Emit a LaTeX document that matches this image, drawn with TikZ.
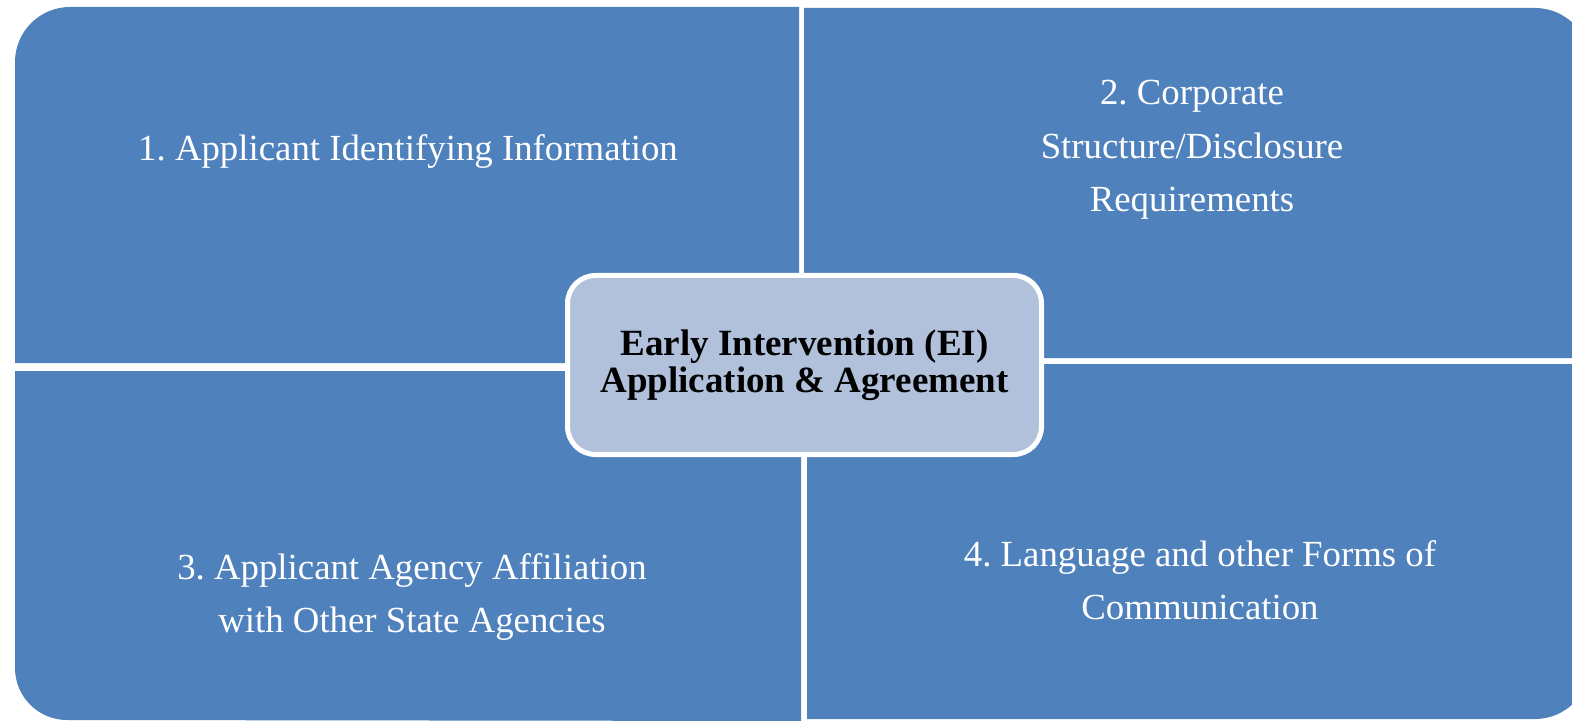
\documentclass[tikz,border=0pt]{standalone}
\usepackage{fontspec}
\setmainfont{Liberation Serif}
\frenchspacing
\definecolor{quadblue}{RGB}{79,129,189}
\definecolor{coreblue}{RGB}{177,193,220}
\begin{document}
\begin{tikzpicture}[x=0.5pt,y=-0.5pt,
  quad/.style={fill=quadblue},
  quadtext/.style={text=white,align=center,inner sep=0pt,font=\fontsize{18.4pt}{26.7pt}\selectfont},
  core/.style={draw=white,line width=2.5pt,fill=coreblue,rounded corners=14pt,
    minimum width=237pt,minimum height=89.5pt,align=center,inner sep=0pt,
    font=\bfseries\fontsize{18.5pt}{18.5pt}\selectfont}]
\useasboundingbox (0,0) rectangle (1572,721);
\clip (0,0) rectangle (1572,721);
\fill[quad] (799,363) -- (15,363) -- (15,62) arc[start angle=180,end angle=270,radius=55] -- (799,7) -- cycle;
\fill[quad] (804,358) -- (804,8) -- (1535,8) arc[start angle=270,end angle=360,radius=55] -- (1590,358) -- cycle;
\fill[quad] (801,371) -- (15,371) -- (15,668) arc[start angle=180,end angle=90,radius=52] -- (801,721) -- cycle;
\fill[quad] (807,364) -- (1590,364) -- (1590,664) arc[start angle=0,end angle=90,radius=55] -- (807,719) -- cycle;
\node[quadtext] (info) at (408,152) {1. Applicant Identifying Information};
\node[quadtext] (corp) at (1192,150) {2. Corporate\\Structure/Disclosure\\Requirements};
\node[quadtext] (agency) at (412,597) {3. Applicant Agency Affiliation\\with Other State Agencies};
\node[quadtext] (lang) at (1200,580) {4. Language and other Forms of\\Communication};
\node[core] (ei) at (804.5,365) {Early Intervention (EI)\\Application \& Agreement};
\end{tikzpicture}
\end{document}
